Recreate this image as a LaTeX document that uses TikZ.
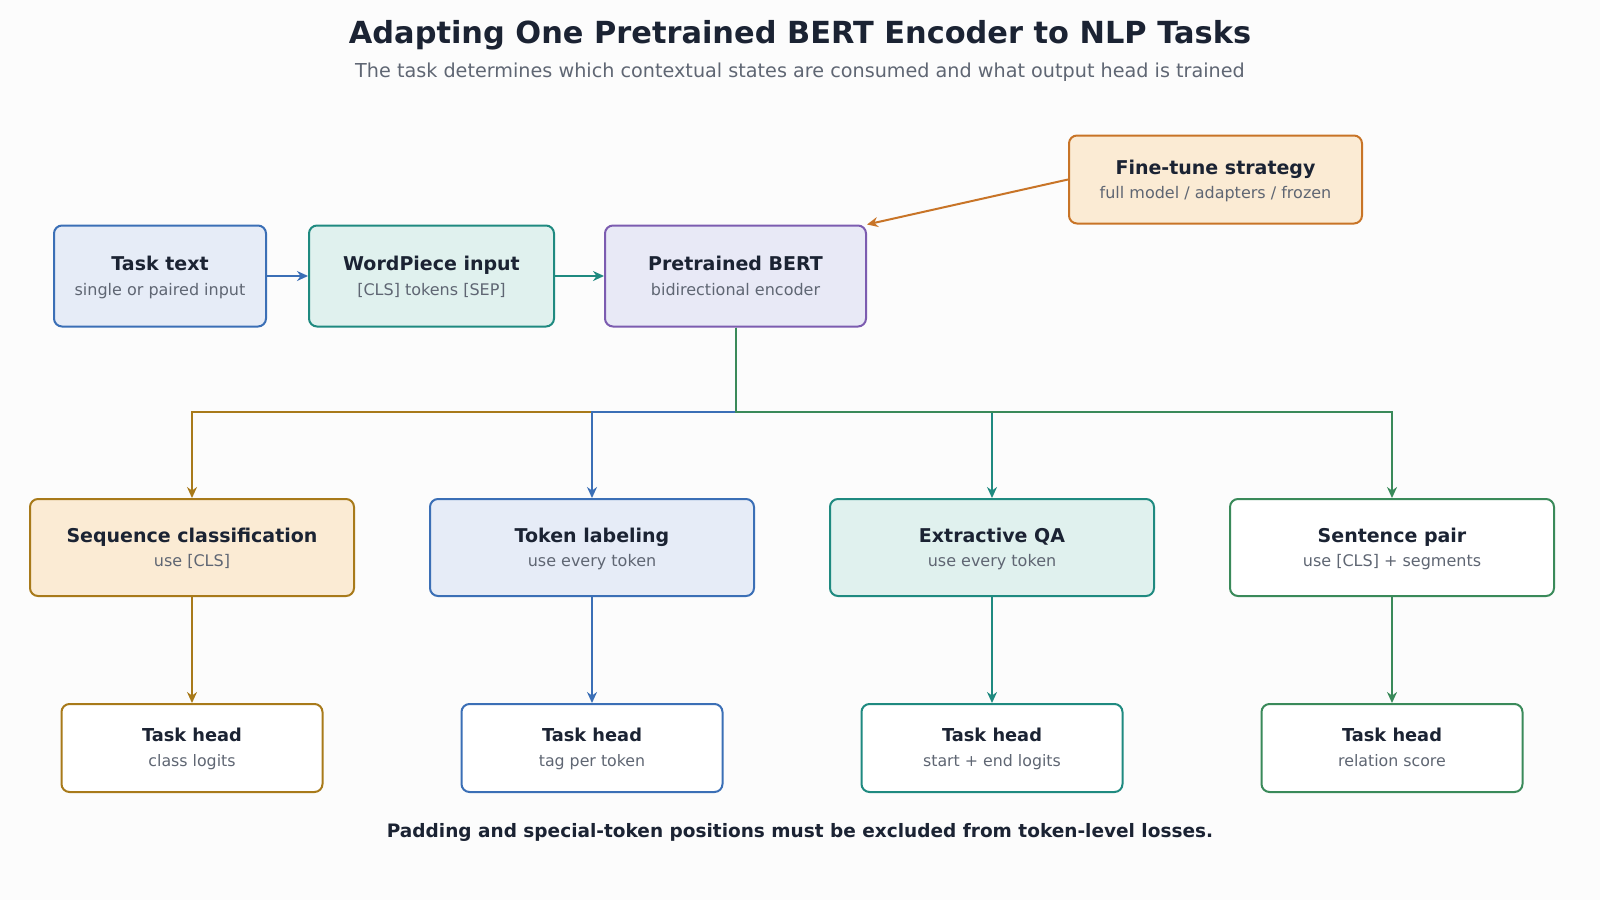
\documentclass[tikz,border=0pt]{standalone}
\usepackage{fontspec}
\setmainfont{DejaVu Sans}
\usetikzlibrary{arrows.meta}
\definecolor{ink}{HTML}{1B2333}
\definecolor{sub}{HTML}{5F6673}
\definecolor{cblue}{HTML}{3B6FB6}\definecolor{fblue}{HTML}{E6ECF7}
\definecolor{cteal}{HTML}{1F8A80}\definecolor{fteal}{HTML}{E0F1EE}
\definecolor{cpurp}{HTML}{7C5CB0}\definecolor{fpurp}{HTML}{E8E9F6}
\definecolor{corng}{HTML}{C87427}\definecolor{forng}{HTML}{FBEBD4}
\definecolor{cgold}{HTML}{A87A1A}
\definecolor{cgreen}{HTML}{3A8A5A}
\tikzset{
  box/.style={draw, line width=1pt, rounded corners=4pt, align=center, inner sep=0pt},
  topbox/.style={box, minimum height=50.5pt},
  midbox/.style={box, minimum width=162pt, minimum height=48.5pt},
  headbox/.style={box, fill=white, minimum width=130.5pt, minimum height=44pt},
  conn/.style={line width=1pt, -{Stealth[length=5.5pt,width=5pt]}},
}
\newcommand{\boxtxt}[2]{{\fontsize{9.5pt}{11pt}\selectfont\bfseries\color{ink}\rule{0pt}{9.8pt}#1}\\[0.1pt]{\fontsize{8pt}{9.5pt}\selectfont\color{sub}\strut#2}}
\newcommand{\headtxt}[2]{{\fontsize{8.9pt}{10.5pt}\selectfont\bfseries\color{ink}\rule{0pt}{9.3pt}#1}\\[0.5pt]{\fontsize{7.9pt}{9.5pt}\selectfont\color{sub}\strut#2}}
\begin{document}
\begin{tikzpicture}[x=0.5pt,y=-0.5pt]
\useasboundingbox (0,0) rectangle (1600,900);
\fill[white!98!gray] (0,0) rectangle (1600,900);
\node (title) at (800,35) {\fontsize{15.2pt}{18pt}\selectfont\bfseries\color{ink}Adapting One Pretrained BERT Encoder to NLP Tasks};
\node (subtitle) at (800,72) {\fontsize{9.6pt}{11.5pt}\selectfont\color{sub}The task determines which contextual states are consumed and what output head is trained};

\node[topbox, draw=cblue, fill=fblue, minimum width=106pt] (task) at (160,276) {\boxtxt{Task text}{single or paired input}};
\node[topbox, draw=cteal, fill=fteal, minimum width=122.5pt] (wp) at (431.5,276) {\boxtxt{WordPiece input}{[CLS] tokens [SEP]}};
\node[topbox, draw=cpurp, fill=fpurp, minimum width=130.5pt] (bert) at (735.5,276) {\boxtxt{Pretrained BERT}{bidirectional encoder}};
\node[box, draw=corng, fill=forng, minimum width=146.5pt, minimum height=44pt] (fine) at (1215.5,179.5) {\boxtxt{Fine-tune strategy}{full model / adapters / frozen}};

\node[midbox, draw=cgold, fill=forng] (seq) at (192,547.5) {\boxtxt{Sequence classification}{use [CLS]}};
\node[midbox, draw=cblue, fill=fblue] (tok) at (592,547.5) {\boxtxt{Token labeling}{use every token}};
\node[midbox, draw=cteal, fill=fteal] (qa) at (992,547.5) {\boxtxt{Extractive QA}{use every token}};
\node[midbox, draw=cgreen, fill=white] (pair) at (1392,547.5) {\boxtxt{Sentence pair}{use [CLS] + segments}};

\node[headbox, draw=cgold] (h1) at (192,748) {\headtxt{Task head}{class logits}};
\node[headbox, draw=cblue] (h2) at (592,748) {\headtxt{Task head}{tag per token}};
\node[headbox, draw=cteal] (h3) at (992,748) {\headtxt{Task head}{start + end logits}};
\node[headbox, draw=cgreen] (h4) at (1392,748) {\headtxt{Task head}{relation score}};

\node (foot) at (800,832) {\fontsize{9.25pt}{11pt}\selectfont\bfseries\color{ink}Padding and special-token positions must be excluded from token-level losses.};

\draw[conn, cblue] (task) -- (wp);
\draw[conn, cteal] (wp) -- (bert);
\draw[conn, corng] (fine.west) -- (bert.north east);

\draw[conn, cgold] (bert.south) |- (192,412) -- (seq.north);
\draw[conn, cblue] (bert.south) |- (592,412) -- (tok.north);
\draw[conn, cteal] (bert.south) |- (992,412) -- (qa.north);
\draw[conn, cgreen] (bert.south) |- (1392,412) -- (pair.north);

\draw[conn, cgold] (seq) -- (h1);
\draw[conn, cblue] (tok) -- (h2);
\draw[conn, cteal] (qa) -- (h3);
\draw[conn, cgreen] (pair) -- (h4);
\end{tikzpicture}
\end{document}
